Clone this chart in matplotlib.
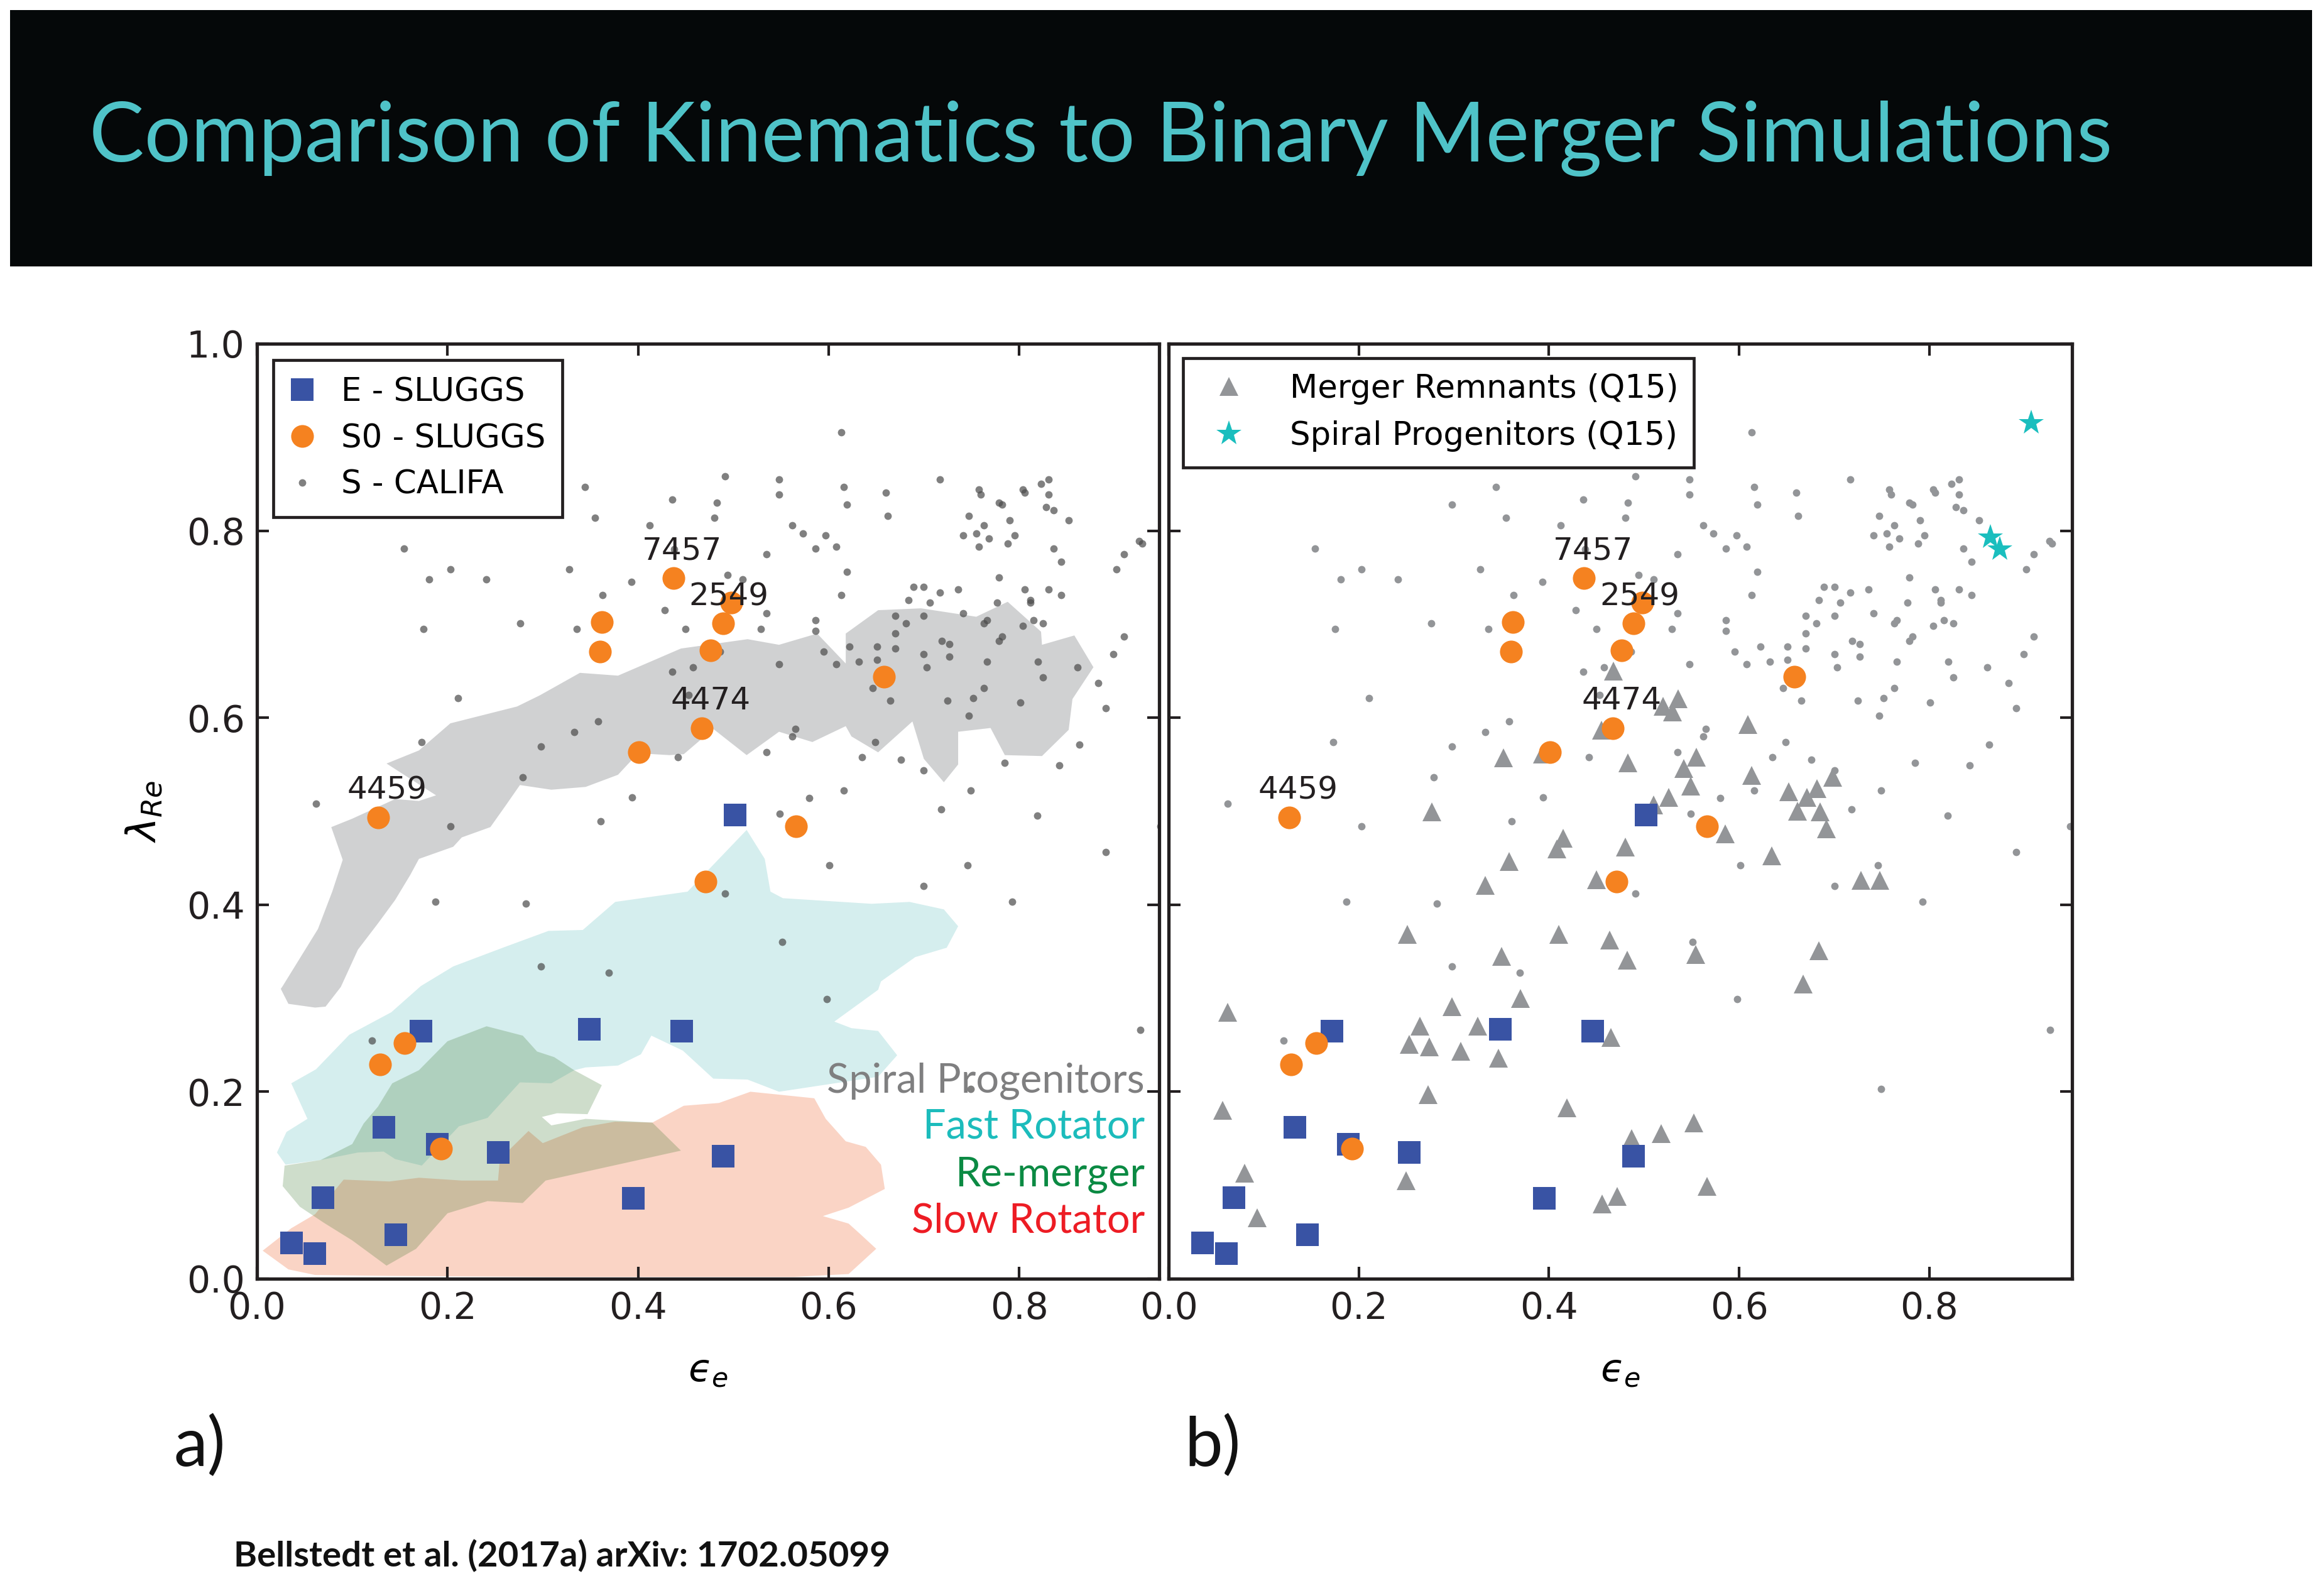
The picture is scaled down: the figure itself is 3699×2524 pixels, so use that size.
import matplotlib
matplotlib.use("Agg")
import matplotlib.pyplot as plt
from matplotlib.patches import Polygon, Rectangle

# ---------------- data ----------------
# S - CALIFA spirals (same sample drawn in both panels)
califa_x = [0.344, 0.298, 0.436, 0.355, 0.412, 0.154, 0.203, 0.181, 0.241, 0.328,
            0.393, 0.363, 0.428, 0.175, 0.276, 0.336, 0.450, 0.436, 0.458, 0.211,
            0.453, 0.358, 0.333, 0.173, 0.298, 0.442, 0.279, 0.394, 0.438, 0.613,
            0.491, 0.548, 0.548, 0.616, 0.619, 0.660, 0.662, 0.717, 0.483, 0.480,
            0.562, 0.573, 0.597, 0.586, 0.608, 0.535, 0.758, 0.760, 0.747, 0.763,
            0.755, 0.741, 0.768, 0.758, 0.779, 0.782, 0.790, 0.795, 0.788, 0.804,
            0.806, 0.823, 0.831, 0.831, 0.828, 0.836, 0.852, 0.836, 0.844, 0.926,
            0.929, 0.910, 0.902, 0.619, 0.494, 0.510, 0.613, 0.535, 0.529, 0.586,
            0.586, 0.689, 0.700, 0.684, 0.706, 0.717, 0.736, 0.670, 0.681, 0.700,
            0.741, 0.779, 0.777, 0.806, 0.812, 0.812, 0.831, 0.844, 0.763, 0.766,
            0.804, 0.815, 0.825, 0.670, 0.670, 0.651, 0.651, 0.622, 0.595, 0.632,
            0.608, 0.548, 0.486, 0.719, 0.727, 0.727, 0.700, 0.703, 0.779, 0.782,
            0.766, 0.820, 0.825, 0.910, 0.899, 0.861, 0.883, 0.646, 0.665, 0.725,
            0.752, 0.763, 0.801, 0.891, 0.747, 0.565, 0.562, 0.649, 0.535, 0.635,
            0.676, 0.863, 0.785, 0.842, 0.700, 0.616, 0.749, 0.062, 0.580, 0.718,
            0.819, 0.948, 0.203, 0.361, 0.549, 0.891, 0.601, 0.746, 0.700, 0.793,
            0.491, 0.187, 0.282, 0.298, 0.369, 0.121, 0.551, 0.598, 0.927, 0.749]
califa_y = [0.847, 0.828, 0.833, 0.814, 0.806, 0.781, 0.759, 0.748, 0.748, 0.759,
            0.745, 0.731, 0.715, 0.695, 0.701, 0.695, 0.695, 0.649, 0.654, 0.621,
            0.624, 0.596, 0.585, 0.574, 0.569, 0.558, 0.536, 0.515, 0.780, 0.905,
            0.858, 0.855, 0.839, 0.847, 0.828, 0.841, 0.816, 0.855, 0.830, 0.814,
            0.806, 0.797, 0.795, 0.781, 0.783, 0.775, 0.844, 0.839, 0.816, 0.806,
            0.797, 0.795, 0.792, 0.783, 0.830, 0.828, 0.811, 0.795, 0.786, 0.844,
            0.841, 0.850, 0.855, 0.839, 0.825, 0.822, 0.811, 0.781, 0.767, 0.789,
            0.786, 0.775, 0.759, 0.756, 0.753, 0.748, 0.731, 0.712, 0.695, 0.704,
            0.693, 0.740, 0.740, 0.726, 0.723, 0.734, 0.737, 0.709, 0.701, 0.709,
            0.712, 0.750, 0.723, 0.737, 0.726, 0.723, 0.737, 0.731, 0.701, 0.704,
            0.698, 0.704, 0.701, 0.690, 0.674, 0.676, 0.662, 0.676, 0.671, 0.660,
            0.657, 0.657, 0.671, 0.682, 0.679, 0.665, 0.668, 0.654, 0.682, 0.687,
            0.660, 0.660, 0.643, 0.687, 0.668, 0.654, 0.637, 0.632, 0.618, 0.618,
            0.621, 0.632, 0.616, 0.610, 0.602, 0.588, 0.580, 0.574, 0.563, 0.558,
            0.555, 0.571, 0.552, 0.549, 0.544, 0.522, 0.522, 0.508, 0.514, 0.502,
            0.495, 0.484, 0.484, 0.489, 0.497, 0.456, 0.442, 0.442, 0.420, 0.403,
            0.412, 0.403, 0.401, 0.334, 0.327, 0.255, 0.360, 0.299, 0.266, 0.203]

# E - SLUGGS
e_x = [0.172, 0.349, 0.446, 0.133, 0.189, 0.253, 0.395, 0.069, 0.146, 0.036, 0.061, 0.489, 0.502]
e_y = [0.265, 0.267, 0.265, 0.162, 0.144, 0.135, 0.086, 0.087, 0.047, 0.038, 0.027, 0.131, 0.496]

# S0 - SLUGGS (with NGC numbers for the labelled ones)
s0_x = [0.127, 0.155, 0.129, 0.193, 0.471, 0.566, 0.437, 0.362, 0.360, 0.498, 0.489, 0.476, 0.467, 0.401, 0.658]
s0_y = [0.493, 0.252, 0.229, 0.139, 0.425, 0.484, 0.749, 0.702, 0.671, 0.723, 0.701, 0.672, 0.589, 0.563, 0.644]
s0_names = ['4459', '', '', '', '', '', '7457', '', '', '2549', '', '', '4474', '', '']

# Merger remnants (Q15)
merger_x = [0.468, 0.536, 0.520, 0.530, 0.609, 0.455, 0.393, 0.352, 0.555, 0.483,
            0.542, 0.613, 0.698, 0.549, 0.682, 0.652, 0.526, 0.671, 0.510, 0.661,
            0.685, 0.277, 0.692, 0.585, 0.415, 0.408, 0.480, 0.358, 0.634, 0.450,
            0.333, 0.728, 0.748, 0.251, 0.410, 0.464, 0.482, 0.350, 0.554, 0.684,
            0.667, 0.370, 0.298, 0.062, 0.264, 0.325, 0.253, 0.274, 0.307, 0.347,
            0.465, 0.273, 0.057, 0.419, 0.552, 0.518, 0.487, 0.080, 0.250, 0.566,
            0.093, 0.456, 0.472]
merger_y = [0.650, 0.620, 0.612, 0.606, 0.593, 0.587, 0.561, 0.557, 0.558, 0.552,
            0.546, 0.538, 0.536, 0.527, 0.524, 0.521, 0.515, 0.515, 0.507, 0.500,
            0.499, 0.499, 0.481, 0.476, 0.471, 0.460, 0.462, 0.446, 0.452, 0.427,
            0.421, 0.426, 0.426, 0.368, 0.368, 0.362, 0.341, 0.345, 0.347, 0.351,
            0.315, 0.300, 0.291, 0.285, 0.270, 0.270, 0.251, 0.248, 0.243, 0.236,
            0.258, 0.197, 0.180, 0.183, 0.167, 0.155, 0.150, 0.113, 0.105, 0.099,
            0.065, 0.080, 0.088]

# Spiral progenitors (Q15)
prog_x = [0.907, 0.864, 0.874]
prog_y = [0.915, 0.793, 0.780]

# simulation regions (filled contours, panel a)
spiral_reg_x = [0.025, 0.033, 0.061, 0.072, 0.088, 0.106, 0.127, 0.145, 0.161, 0.170,
                0.206, 0.215, 0.245, 0.261, 0.276, 0.309, 0.345, 0.379, 0.400, 0.433,
                0.448, 0.479, 0.514, 0.548, 0.583, 0.618, 0.624, 0.652, 0.688, 0.700,
                0.721, 0.736, 0.736, 0.770, 0.785, 0.824, 0.852, 0.856, 0.878, 0.858,
                0.824, 0.823, 0.788, 0.755, 0.697, 0.652, 0.618, 0.618, 0.588, 0.548,
                0.515, 0.445, 0.379, 0.339, 0.297, 0.273, 0.203, 0.170, 0.136, 0.188,
                0.170, 0.145, 0.100, 0.078, 0.090, 0.079, 0.064, 0.027]
spiral_reg_y = [0.310, 0.294, 0.290, 0.291, 0.312, 0.352, 0.380, 0.405, 0.432, 0.449,
                0.462, 0.472, 0.483, 0.506, 0.528, 0.523, 0.526, 0.539, 0.562, 0.560,
                0.561, 0.588, 0.560, 0.585, 0.574, 0.591, 0.580, 0.563, 0.596, 0.556,
                0.531, 0.550, 0.585, 0.589, 0.560, 0.559, 0.587, 0.620, 0.654, 0.688,
                0.678, 0.692, 0.724, 0.708, 0.717, 0.715, 0.690, 0.658, 0.690, 0.678,
                0.684, 0.674, 0.645, 0.648, 0.624, 0.612, 0.594, 0.565, 0.551, 0.517,
                0.511, 0.513, 0.492, 0.483, 0.448, 0.414, 0.374, 0.313]

fast_reg_x = [0.021, 0.031, 0.053, 0.036, 0.062, 0.097, 0.141, 0.172, 0.206, 0.258,
              0.306, 0.342, 0.376, 0.452, 0.514, 0.533, 0.539, 0.552, 0.645, 0.685,
              0.721, 0.736, 0.724, 0.691, 0.655, 0.652, 0.606, 0.624, 0.652, 0.672,
              0.652, 0.548, 0.515, 0.479, 0.447, 0.414, 0.403, 0.379, 0.345, 0.333,
              0.309, 0.276, 0.242, 0.212, 0.173, 0.145, 0.133, 0.106, 0.067, 0.030]
fast_reg_y = [0.135, 0.157, 0.171, 0.209, 0.224, 0.261, 0.285, 0.313, 0.334, 0.354,
              0.372, 0.373, 0.403, 0.414, 0.480, 0.449, 0.414, 0.407, 0.401, 0.403,
              0.395, 0.377, 0.354, 0.344, 0.318, 0.309, 0.275, 0.268, 0.265, 0.239,
              0.216, 0.200, 0.213, 0.214, 0.244, 0.260, 0.240, 0.228, 0.226, 0.223,
              0.209, 0.210, 0.172, 0.163, 0.121, 0.128, 0.136, 0.135, 0.127, 0.122]

remerger_reg_x = [0.241, 0.279, 0.294, 0.312, 0.333, 0.362, 0.347, 0.315, 0.299, 0.309,
                  0.345, 0.379, 0.415, 0.445, 0.303, 0.279, 0.242, 0.200, 0.167, 0.136,
                  0.100, 0.070, 0.045, 0.027, 0.029, 0.067, 0.100, 0.112, 0.127, 0.142,
                  0.170, 0.200]
remerger_reg_y = [0.270, 0.260, 0.243, 0.237, 0.223, 0.207, 0.176, 0.177, 0.173, 0.164,
                  0.171, 0.169, 0.167, 0.137, 0.105, 0.081, 0.083, 0.070, 0.032, 0.014,
                  0.041, 0.060, 0.077, 0.099, 0.121, 0.127, 0.144, 0.166, 0.184, 0.209,
                  0.223, 0.254]

slow_reg_x = [0.006, 0.036, 0.061, 0.091, 0.139, 0.170, 0.215, 0.253, 0.255, 0.285,
              0.300, 0.342, 0.376, 0.415, 0.448, 0.485, 0.518, 0.585, 0.597, 0.618,
              0.639, 0.655, 0.659, 0.621, 0.594, 0.621, 0.633, 0.650, 0.621, 0.564,
              0.303, 0.139, 0.061, 0.033]
slow_reg_y = [0.030, 0.054, 0.069, 0.106, 0.104, 0.108, 0.105, 0.105, 0.128, 0.158,
              0.145, 0.162, 0.168, 0.167, 0.185, 0.188, 0.200, 0.193, 0.171, 0.147,
              0.141, 0.122, 0.096, 0.076, 0.067, 0.059, 0.048, 0.032, 0.005, 0.002,
              0.002, 0.003, 0.004, 0.010]

region_names = ['Spiral Progenitors', 'Fast Rotator', 'Re-merger', 'Slow Rotator']
region_text_colors = ['#7f7f80', '#1cbcbc', '#0b8a43', '#ed1c24']

label_offsets = {'4459': (14, 30), '7457': (14, 30), '2549': (-4, -4), '4474': (14, 30)}

# ---------------- figure ----------------
W, H = 3699, 2524
fig = plt.figure(figsize=(W / 100, H / 100), dpi=100)
fig.patch.set_facecolor('white')
renderer = fig.canvas.get_renderer()

SLIDE_FONT = ['Lato', 'DejaVu Sans']
BLUE = '#3953a4'
ORANGE = '#f58220'
LGRAY = '#939598'


def fx(px):
    return px / W


def fy(py):
    return 1 - py / H


def fit_width(t, width_px):
    w = t.get_window_extent(renderer=renderer).width
    t.set_fontsize(t.get_fontsize() * width_px / w)


# title band
fig.add_artist(Rectangle((fx(16), fy(424)), fx(3680) - fx(16), fy(16) - fy(424),
                         transform=fig.transFigure, facecolor='#050809', edgecolor='none', zorder=0))
title = fig.text(fx(142), fy(257), 'Comparison of Kinematics to Binary Merger Simulations',
                 color='#4fc3c8', fontsize=100, family=SLIDE_FONT, va='baseline', ha='left')
fit_width(title, 3219)

ax1 = fig.add_axes([fx(409), fy(2035), (1845 - 409) / W, 1488 / H])
ax2 = fig.add_axes([fx(1860), fy(2035), (3298 - 1860) / W, 1488 / H])

for ax, xmax in ((ax1, 0.947), (ax2, 0.950)):
    ax.set_xlim(0, xmax)
    ax.set_ylim(0, 1.0)
    ax.set_xticks([0.0, 0.2, 0.4, 0.6, 0.8])
    ax.set_xticklabels(['0.0', '0.2', '0.4', '0.6', '0.8'])
    ax.set_yticks([0.0, 0.2, 0.4, 0.6, 0.8, 1.0])
    ax.set_yticklabels(['0.0', '0.2', '0.4', '0.6', '0.8', '1.0'])
    ax.tick_params(direction='in', length=14, width=3, top=True, right=True,
                   labelsize=42, pad=14, colors='#231f20')
    for s in ax.spines.values():
        s.set_linewidth(3.8)
        s.set_color('#231f20')
    ax.set_xlabel('$\u03f5_e$', fontsize=44, va='center')
    ax.xaxis.set_label_coords(0.5, -0.099)
ax2.tick_params(labelleft=False)
ax1.set_ylabel(r'$\lambda_{Re}$', fontsize=46, va='center')
ax1.yaxis.set_label_coords(-0.125, 0.5)

# ---- panel a: simulation regions + observations ----
regions = [(slow_reg_x, slow_reg_y, '#f5a080', 0.45),
           (fast_reg_x, fast_reg_y, '#80cccc', 0.33),
           (remerger_reg_x, remerger_reg_y, '#3f7830', 0.25),
           (spiral_reg_x, spiral_reg_y, '#a2a4a7', 0.5)]
for rx, ry, col, a in regions:
    ax1.add_patch(Polygon(list(zip(rx, ry)), closed=True, facecolor=col,
                          edgecolor='none', alpha=a, zorder=1))

ax1.plot(e_x, e_y, 's', color=BLUE, ms=26, mew=0, zorder=3, label='E - SLUGGS')
ax1.plot(s0_x, s0_y, 'o', color=ORANGE, ms=26, mew=0, zorder=4, label='S0 - SLUGGS')
ax1.plot(califa_x, califa_y, 'o', color='#4a4a4a', alpha=0.7, ms=8.5, mew=0, zorder=2,
         label='S - CALIFA')

leg1 = ax1.legend(loc='upper left', numpoints=1, fontsize=37, handlelength=0.75,
                  handletextpad=0.83, labelspacing=0.46, borderpad=0.52, borderaxespad=0.5,
                  fancybox=False, framealpha=1, edgecolor='#231f20')
leg1.get_frame().set_linewidth(3.4)
for h in leg1.legend_handles:
    h.set_alpha(1)
leg1.legend_handles[2].set_color('#808080')

# region names (slide text boxes)
baselines = [0.199, 0.150, 0.0988, 0.0497]
rtexts = []
for name, col, yb in zip(region_names, region_text_colors, baselines):
    t = ax1.text(0.984, yb, name, transform=ax1.transAxes, color=col, fontsize=44,
                 family=SLIDE_FONT, ha='right', va='baseline', zorder=6)
    rtexts.append(t)
fit_width(rtexts[0], 506)
for t in rtexts[1:]:
    t.set_fontsize(rtexts[0].get_fontsize())

# ---- panel b: merger remnants ----
ax2.plot(califa_x, califa_y, 'o', color=LGRAY, ms=8.5, mew=0, zorder=1)
ax2.plot(merger_x, merger_y, '^', color=LGRAY, ms=22, mew=0, zorder=2,
         label='Merger Remnants (Q15)')
ax2.plot(prog_x, prog_y, '*', color='#1abebe', ms=30, mew=0, zorder=2,
         label='Spiral Progenitors (Q15)')
ax2.plot(e_x, e_y, 's', color=BLUE, ms=26, mew=0, zorder=3)
ax2.plot(s0_x, s0_y, 'o', color=ORANGE, ms=26, mew=0, zorder=4)

leg2 = ax2.legend(loc='upper left', numpoints=1, fontsize=37, handlelength=1.9,
                  handletextpad=0.94, labelspacing=0.49, borderpad=0.47, borderaxespad=0.45,
                  fancybox=False, framealpha=1, edgecolor='#231f20')
leg2.get_frame().set_linewidth(3.4)

# NGC labels in both panels
for ax in (ax1, ax2):
    for name, x, y in zip(s0_names, s0_x, s0_y):
        if name:
            ax.annotate(name, (x, y), xytext=label_offsets[name], textcoords='offset pixels',
                        fontsize=36, ha='center', va='baseline', color='#231f20', zorder=5)

# panel letters and reference
fig.text(fx(276), fy(2333), 'a)', fontsize=78, family=SLIDE_FONT, va='baseline', color='#111111')
fig.text(fx(1885), fy(2333), 'b)', fontsize=78, family=SLIDE_FONT, va='baseline', color='#111111')
ref = fig.text(fx(372), fy(2493), 'Bellstedt et al. (2017a) arXiv: 1702.05099', fontsize=40,
               family=SLIDE_FONT, fontweight='bold', va='baseline', color='#111111')
fit_width(ref, 1045)

fig.savefig('out.png', dpi=100, facecolor='white')
